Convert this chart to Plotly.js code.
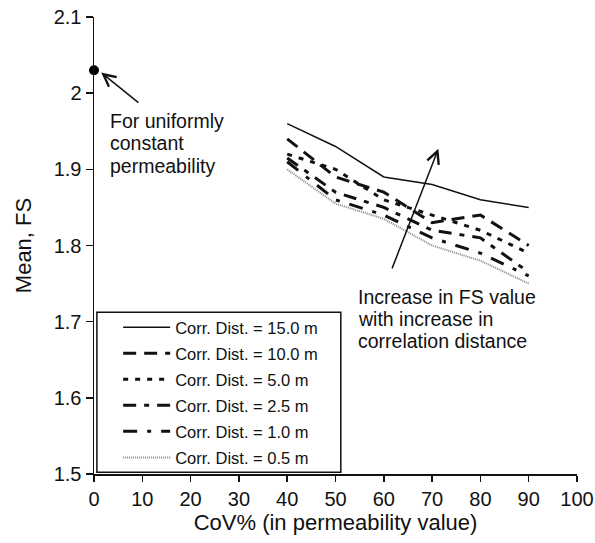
<!DOCTYPE html>
<html>
<head>
<meta charset="utf-8">
<script src="https://cdn.plot.ly/plotly-3.0.1.min.js"></script>
<style>html,body{margin:0;padding:0;background:#fff;}#chart{width:595px;height:543px;}</style>
</head>
<body>
<div id="chart"></div>
<script>
const cov = [40, 50, 60, 70, 80, 90];
const fs15 = [1.96, 1.93, 1.89, 1.88, 1.86, 1.85];
const fs10 = [1.94, 1.89, 1.87, 1.83, 1.84, 1.80];
const fs5 = [1.92, 1.90, 1.86, 1.84, 1.82, 1.79];
const fs25 = [1.915, 1.87, 1.85, 1.82, 1.81, 1.765];
const fs1 = [1.91, 1.86, 1.84, 1.81, 1.79, 1.76];
const fs05 = [1.90, 1.855, 1.835, 1.80, 1.78, 1.75];
const names = ["Corr. Dist. = 15.0 m", "Corr. Dist. = 10.0 m", "Corr. Dist. = 5.0 m",
               "Corr. Dist. = 2.5 m", "Corr. Dist. = 1.0 m", "Corr. Dist. = 0.5 m"];
const uniformCov = [0];
const uniformFs = [2.03];
const note1 = ["For uniformly", "constant", "permeability"];
const note2 = ["Increase in FS value", "with increase in", "correlation distance"];

const FONT = "Liberation Sans, Arial, Helvetica, sans-serif";
const series = [fs15, fs10, fs5, fs25, fs1, fs05];
const styles = [
  {color: "#111", width: 1.5, dash: "solid"},
  {color: "#111", width: 3, dash: "13px,8px"},
  {color: "#111", width: 3, dash: "5px,7px"},
  {color: "#111", width: 3, dash: "13px,8px,5px,8px"},
  {color: "#111", width: 3, dash: "14px,10px,4px,10px"},
  {color: "#888", width: 2, dash: "1px,1px"}
];
const traces = series.map((s, i) => ({
  x: cov, y: s, type: "scatter", mode: "lines", name: names[i],
  line: styles[i], legendgroup: "g" + i
}));
traces.push({x: uniformCov, y: uniformFs, type: "scatter", mode: "markers",
  marker: {color: "#000", size: 10}, showlegend: false, cliponaxis: false});

const annotations = [
  {x: 1.5, y: 2.027, xref: "x", yref: "y", ax: 9.5, ay: 1.986, axref: "x", ayref: "y",
   showarrow: true, arrowhead: 5, arrowsize: 1.6, arrowwidth: 1.5, arrowcolor: "#111", text: ""},
  {x: 71.3, y: 1.927, xref: "x", yref: "y", ax: 61.6, ay: 1.768, axref: "x", ayref: "y",
   showarrow: true, arrowhead: 5, arrowsize: 1.6, arrowwidth: 1.5, arrowcolor: "#111", text: ""}
];
const note1Y = [1.9637, 1.9348, 1.9046];
const note2Y = [1.7327, 1.7034, 1.6745];
note1.forEach((t, i) => annotations.push({x: 2.9, y: note1Y[i], xref: "x", yref: "y",
  xanchor: "left", yanchor: "middle", showarrow: false, text: t, font: {size: 19.5}}));
note2.forEach((t, i) => annotations.push({x: 54.2, y: note2Y[i], xref: "x", yref: "y",
  xanchor: "left", yanchor: "middle", showarrow: false, text: t, font: {size: 19.5}}));

const layout = {
  width: 595, height: 543,
  margin: {l: 94, r: 18, t: 17, b: 69},
  paper_bgcolor: "#fff", plot_bgcolor: "#fff",
  font: {family: FONT, size: 20, color: "#111"},
  showlegend: true,
  legend: {x: 0.05, y: 0.359, xanchor: "left", yanchor: "top",
    bgcolor: "rgba(0,0,0,0)", borderwidth: 0, itemwidth: 47,
    tracegroupgap: 1.6, traceorder: "grouped",
    font: {family: FONT, size: 16.5, color: "#111"}},
  xaxis: {range: [0, 100], dtick: 10, tick0: 0, showgrid: false, zeroline: false,
    showline: true, linecolor: "#111", linewidth: 1.5, ticks: "outside",
    ticklen: 6, tickwidth: 1.5, tickcolor: "#111",
    title: {text: "CoV% (in permeability value)", font: {size: 22}, standoff: 6}},
  yaxis: {range: [1.5, 2.1], dtick: 0.1, tick0: 1.5, showgrid: false, zeroline: false,
    showline: true, linecolor: "#111", linewidth: 1.5, ticks: "outside",
    ticklen: 7, tickwidth: 1.5, tickcolor: "#111",
    title: {text: "Mean, FS", font: {size: 22}, standoff: 16}},
  shapes: [{type: "rect", xref: "paper", yref: "paper",
    x0: 0.006, x1: 0.511, y0: 0.004, y1: 0.354,
    line: {color: "#111", width: 1.5}}],
  annotations: annotations
};
Plotly.newPlot("chart", traces, layout, {displayModeBar: false, staticPlot: true});
</script>
</body>
</html>
